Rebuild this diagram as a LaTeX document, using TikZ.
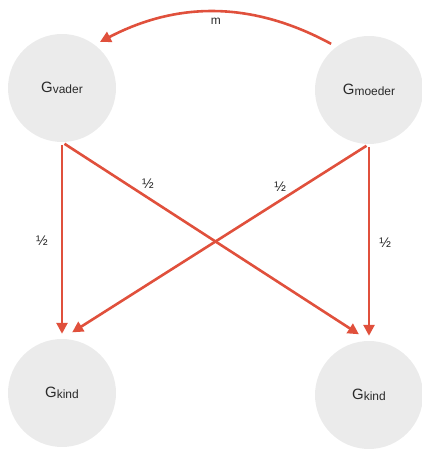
\documentclass[tikz,border=0pt]{standalone}
\usepackage{fontspec}
\setmainfont{Liberation Sans}
\usepackage{xcolor}
\usetikzlibrary{arrows.meta,positioning}
\definecolor{genred}{HTML}{E0503C}
\definecolor{genfill}{HTML}{EBEBEB}
\definecolor{gentext}{HTML}{2A2A2A}
\newcommand{\gen}[1]{G{\fontsize{12}{13}\selectfont\raisebox{-1.5bp}{#1}}}

\begin{document}
\begin{tikzpicture}[x=1bp, y=1bp,
  genome/.style={circle, fill=genfill, minimum size=108bp, inner sep=0pt,
                 text=gentext, font=\fontsize{15}{17}\selectfont},
  arr/.style={-{Triangle[length=11bp, width=11bp]}, line width=2.6bp,
              color=genred, shorten <=3bp},
  frac/.style={font=\fontsize{14}{16}\selectfont, text=gentext, inner sep=2bp}]
\useasboundingbox (0,0) rectangle (421,450);
\node[genome] (vader) at (62,362) {\gen{vader}};
\node[genome] (moeder) at (369,360) {\gen{moeder}};
\node[genome] (kindL) at (62,57) {\gen{kind}};
\node[genome] (kindR) at (369,55) {\gen{kind}};
\draw[arr, shorten >=5bp] (vader.south) -- node[frac, midway, left=11bp] {½} (kindL.north);
\draw[arr, shorten >=12bp] (vader.south) -- node[frac, pos=0.25, above right] {½} (kindR.north);
\draw[arr, shorten >=12bp] (moeder.south) -- node[frac, pos=0.26, above left] {½} (kindL.north);
\draw[arr, shorten >=5bp] (moeder.south) -- node[frac, midway, right=7bp] {½} (kindR.north);
\draw[arr, shorten <=6bp, shorten >=6bp] (moeder.127) to[bend right=28]
  node[frac, font=\fontsize{12}{14}\selectfont, midway, below=2bp] {m} (vader.53);
\end{tikzpicture}
\end{document}
